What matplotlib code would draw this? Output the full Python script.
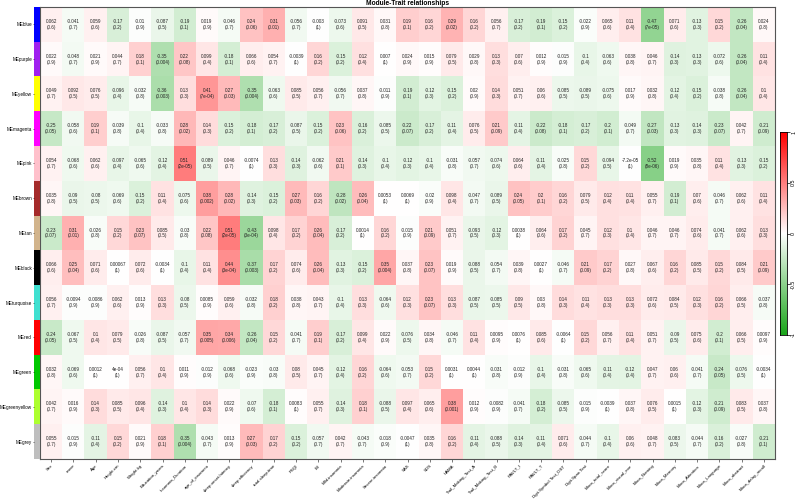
import numpy as np
import matplotlib
matplotlib.use("Agg")
import matplotlib.pyplot as plt
from matplotlib.colors import LinearSegmentedColormap, ListedColormap

plt.rcParams['font.family'] = ['Liberation Sans', 'DejaVu Sans']

modules = ["MEblue", "MEpurple", "MEyellow", "MEmagenta", "MEpink", "MEbrown", "MEtan",
           "MEblack", "MEturquoise", "MEred", "MEgreen", "MEgreenyellow", "MEgrey"]
module_colors = ["#0000FF", "#A020F0", "#FFFF00", "#FF00FF", "#FFC0CB", "#A52A2A", "#D2B48C",
                 "#000000", "#40E0D0", "#FF0000", "#00C800", "#ADFF2F", "#BEBEBE"]

traits = ["Sex", "move", "Age", "Height.cm", "Weight.kg", "Education_years", "Insomnia_Duration",
          "age_of_insomnia", "sleep.onset.latency", "sleep.efficiency", "total.sleep.time", "PSQI",
          "ISI", "Mild.insomnia", "Moderate.insomnia", "Severe.insomnia", "SAS", "SDS", "HAMA",
          "Trail_Making_Test_A", "Trail_Making_Test_B", "RAVLT_I", "RAVLT_T",
          "Digit.Symbol.Test_DST", "Digit.Span.Test", "Moca_total_score", "Moca_visual_exe",
          "Moca_Naming", "Moca_Memory", "Moca_Attention", "Moca_Language", "Moca_abstract",
          "Moca_delay_recall"]

cor_blue = [0.062, -0.041, 0.059, -0.17, -0.01, -0.087, -0.19, 0.019, -0.046, 0.24, 0.31,
            -0.056, -0.003, -0.073, 0.091, 0.031, 0.19, 0.16, 0.29, 0.16, 0.056, -0.17,
            -0.19, -0.15, -0.022, 0.065, 0.11, -0.47, 0.071, -0.13, 0.15, -0.26, 0.024]
p_blue = [0.6, 0.7, 0.6, 0.2, 0.9, 0.5, 0.1, 0.9, 0.7, 0.06, 0.01,
          0.7, 1, 0.6, 0.5, 0.8, 0.1, 0.2, 0.02, 0.2, 0.7, 0.2,
          0.1, 0.2, 0.9, 0.6, 0.4, 7e-05, 0.6, 0.3, 0.2, 0.04, 0.8]

cor_purple = [0.022, -0.048, 0.021, 0.044, 0.18, -0.35, 0.22, 0.099, -0.18, 0.066, 0.054,
              -0.0039, 0.16, -0.15, 0.12, 0.007, 0.024, 0.015, 0.079, 0.029, 0.13, 0.07,
              0.012, -0.015, -0.1, -0.063, 0.038, 0.046, -0.14, -0.13, -0.072, -0.26, 0.11]
p_purple = [0.9, 0.7, 0.9, 0.7, 0.1, 0.004, 0.08, 0.4, 0.1, 0.6, 0.7,
            1, 0.2, 0.2, 0.4, 1, 0.9, 0.9, 0.5, 0.8, 0.3, 0.6,
            0.9, 0.9, 0.4, 0.6, 0.8, 0.7, 0.3, 0.3, 0.6, 0.04, 0.4]

cor_yellow = [0.049, 0.092, 0.076, -0.096, -0.032, -0.36, 0.13, 0.41, 0.27, -0.35, -0.063,
              0.085, 0.056, -0.056, 0.037, -0.011, -0.19, -0.12, -0.15, 0.02, 0.14, 0.051,
              0.06, -0.085, -0.089, -0.075, 0.017, 0.032, -0.12, -0.15, -0.038, -0.26, 0.1]
p_yellow = [0.7, 0.5, 0.5, 0.4, 0.8, 0.003, 0.3, 7e-04, 0.03, 0.004, 0.6,
            0.5, 0.7, 0.7, 0.8, 0.9, 0.1, 0.3, 0.2, 0.9, 0.3, 0.7,
            0.6, 0.5, 0.5, 0.6, 0.9, 0.8, 0.4, 0.2, 0.8, 0.04, 0.4]

cor_magenta = [-0.25, -0.058, 0.19, -0.039, -0.1, -0.033, 0.28, 0.14, -0.15, -0.18, -0.17,
               -0.087, -0.15, 0.23, -0.16, -0.085, -0.22, -0.17, -0.11, 0.076, 0.21, -0.11,
               -0.22, -0.18, -0.17, -0.2, -0.049, -0.27, -0.13, -0.14, -0.23, 0.042, -0.21]
p_magenta = [0.05, 0.6, 0.1, 0.8, 0.4, 0.8, 0.02, 0.3, 0.2, 0.1, 0.2,
             0.5, 0.2, 0.06, 0.2, 0.5, 0.07, 0.2, 0.4, 0.5, 0.09, 0.4,
             0.08, 0.1, 0.2, 0.1, 0.7, 0.03, 0.3, 0.3, 0.07, 0.7, 0.09]

cor_pink = [0.054, -0.068, 0.062, -0.097, -0.065, -0.12, 0.51, -0.089, 0.046, -0.0074, 0.13,
            -0.14, -0.062, 0.21, -0.14, -0.1, -0.12, -0.1, -0.031, -0.057, -0.074, 0.064,
            -0.11, -0.025, 0.15, -0.094, -7.2e-05, -0.52, 0.019, 0.035, 0.11, -0.13, -0.15]
p_pink = [0.7, 0.6, 0.6, 0.4, 0.6, 0.4, 2e-05, 0.5, 0.7, 1, 0.3,
          0.3, 0.6, 0.1, 0.3, 0.4, 0.3, 0.4, 0.8, 0.7, 0.6, 0.6,
          0.4, 0.8, 0.2, 0.5, 1, 8e-06, 0.9, 0.8, 0.4, 0.3, 0.2]

cor_brown = [0.035, -0.09, -0.08, -0.069, -0.15, 0.11, -0.075, 0.38, 0.28, -0.14, -0.15,
             0.27, 0.16, -0.28, 0.26, 0.0053, 0.0069, -0.02, 0.098, -0.047, -0.089, 0.24,
             0.2, 0.16, 0.079, 0.12, 0.11, 0.055, -0.19, 0.07, -0.046, 0.062, 0.11]
p_brown = [0.8, 0.5, 0.5, 0.6, 0.2, 0.4, 0.6, 0.002, 0.02, 0.3, 0.2,
           0.03, 0.2, 0.02, 0.04, 1, 1, 0.9, 0.4, 0.7, 0.5, 0.05,
           0.1, 0.2, 0.5, 0.4, 0.4, 0.7, 0.1, 0.6, 0.7, 0.6, 0.4]

cor_tan = [-0.23, 0.31, -0.026, 0.15, 0.23, 0.085, -0.03, 0.22, 0.51, -0.43, 0.098,
           0.17, 0.26, -0.17, 0.0014, 0.16, -0.015, 0.21, 0.051, -0.093, -0.12, 0.0038,
           0.064, 0.17, 0.045, 0.12, 0.1, 0.046, 0.046, 0.074, -0.041, 0.062, 0.13]
p_tan = [0.07, 0.01, 0.8, 0.2, 0.07, 0.5, 0.8, 0.08, 2e-05, 3e-04, 0.4,
         0.2, 0.04, 0.2, 1, 0.2, 0.9, 0.09, 0.7, 0.5, 0.3, 1,
         0.6, 0.2, 0.7, 0.3, 0.4, 0.7, 0.7, 0.6, 0.7, 0.6, 0.3]

cor_black = [0.066, 0.25, 0.071, 0.00067, 0.072, -0.0034, -0.1, 0.11, 0.44, -0.37, 0.17,
             0.074, 0.26, -0.13, -0.15, 0.35, 0.037, 0.23, 0.019, -0.088, -0.054, 0.039,
             0.0027, -0.046, 0.21, 0.17, 0.027, 0.067, 0.16, 0.085, 0.15, 0.084, 0.21]
p_black = [0.6, 0.04, 0.6, 1, 0.6, 1, 0.4, 0.4, 3e-04, 0.003, 0.2,
           0.6, 0.04, 0.3, 0.2, 0.004, 0.8, 0.07, 0.9, 0.5, 0.7, 0.8,
           1, 0.7, 0.09, 0.2, 0.8, 0.6, 0.2, 0.5, 0.2, 0.5, 0.09]

cor_turquoise = [0.056, -0.0094, -0.0086, 0.062, 0.013, 0.13, -0.08, 0.0085, 0.059, -0.032, 0.18,
                 0.038, 0.043, -0.1, 0.13, -0.064, 0.12, 0.23, 0.13, -0.087, -0.085, 0.09,
                 0.03, 0.14, 0.11, 0.13, 0.13, 0.072, 0.084, 0.12, 0.16, 0.066, -0.037]
p_turquoise = [0.7, 0.9, 0.9, 0.6, 0.9, 0.3, 0.5, 0.9, 0.6, 0.8, 0.2,
               0.8, 0.7, 0.4, 0.3, 0.6, 0.3, 0.07, 0.3, 0.5, 0.5, 0.5,
               0.8, 0.3, 0.4, 0.3, 0.3, 0.6, 0.5, 0.3, 0.2, 0.5, 0.8]

cor_red = [-0.24, -0.067, 0.1, 0.079, -0.026, -0.087, -0.057, 0.35, 0.34, -0.26, 0.15,
           -0.041, 0.19, -0.17, 0.099, 0.022, -0.076, 0.034, -0.046, 0.11, 0.0095, 0.0076,
           0.085, -0.0064, 0.15, 0.056, 0.11, 0.051, -0.09, 0.075, -0.2, 0.066, 0.0097]
p_red = [0.05, 0.5, 0.4, 0.5, 0.8, 0.5, 0.7, 0.005, 0.006, 0.04, 0.2,
         0.7, 0.1, 0.2, 0.4, 0.9, 0.5, 0.8, 0.7, 0.4, 0.9, 1,
         0.6, 1, 0.2, 0.7, 0.4, 0.7, 0.5, 0.6, 0.1, 0.5, 0.9]

cor_green = [0.032, -0.069, 0.0012, 4e-04, 0.056, 0.1, 0.011, -0.012, -0.068, -0.023, -0.03,
             0.08, 0.045, -0.12, 0.16, -0.064, -0.053, 0.15, 0.0031, 0.0044, -0.031, -0.012,
             -0.1, -0.031, -0.065, -0.11, -0.12, 0.047, 0.06, -0.041, -0.24, -0.076, -0.0034]
p_green = [0.8, 0.6, 1, 1, 0.7, 0.4, 0.9, 0.9, 0.6, 0.9, 0.8,
           0.5, 0.7, 0.4, 0.2, 0.6, 0.7, 0.2, 1, 1, 0.8, 0.9,
           0.4, 0.8, 0.6, 0.4, 0.4, 0.7, 0.6, 0.7, 0.05, 0.5, 1]

cor_greenyellow = [0.042, 0.016, 0.14, 0.085, 0.096, -0.14, 0.1, 0.14, 0.022, -0.07, -0.18,
                   0.0083, 0.055, -0.14, 0.18, -0.088, 0.097, 0.065, 0.38, 0.012, -0.0082, -0.041,
                   -0.18, -0.085, -0.015, -0.0039, 0.037, 0.076, 0.0015, -0.12, -0.21, 0.083, 0.037]
p_greenyellow = [0.7, 0.9, 0.3, 0.5, 0.4, 0.3, 0.4, 0.3, 0.9, 0.6, 0.1,
                 1, 0.7, 0.3, 0.1, 0.5, 0.4, 0.6, 0.001, 0.9, 0.9, 0.7,
                 0.2, 0.5, 0.9, 1, 0.8, 0.5, 1, 0.3, 0.09, 0.5, 0.8]

cor_grey = [0.055, -0.015, -0.11, 0.15, 0.021, 0.18, -0.35, -0.043, 0.013, 0.27, 0.17,
            -0.15, -0.057, 0.042, -0.043, -0.018, -0.0047, 0.035, 0.16, -0.11, -0.088, -0.14,
            -0.11, 0.071, -0.044, -0.1, 0.06, 0.048, -0.083, -0.044, -0.16, -0.027, -0.21]
p_grey = [0.7, 0.9, 0.4, 0.2, 0.9, 0.1, 0.004, 0.7, 0.9, 0.03, 0.2,
          0.2, 0.7, 0.7, 0.7, 0.9, 1, 0.8, 0.2, 0.4, 0.5, 0.3,
          0.4, 0.6, 0.7, 0.4, 0.6, 0.7, 0.5, 0.7, 0.2, 0.8, 0.1]

cor = np.array([cor_blue, cor_purple, cor_yellow, cor_magenta, cor_pink, cor_brown, cor_tan,
                cor_black, cor_turquoise, cor_red, cor_green, cor_greenyellow, cor_grey])
pval = np.array([p_blue, p_purple, p_yellow, p_magenta, p_pink, p_brown, p_tan,
                 p_black, p_turquoise, p_red, p_green, p_greenyellow, p_grey])


def r_fmt(v, digits):
    # R-style as.character(signif(v, digits)): fixed unless scientific is shorter
    v = float(f"{v:.{digits}g}")
    fixed = np.format_float_positional(v, trim='-')
    mant, ex = f"{v:.{digits - 1}e}".split('e')
    if '.' in mant:
        mant = mant.rstrip('0').rstrip('.')
    sci = mant + 'e' + ex
    return fixed if len(fixed) <= len(sci) else sci


cmap = LinearSegmentedColormap.from_list("gwr", ["#1AA51A", "#FFFFFF", "#FF0000"])

fig = plt.figure(figsize=(7.98, 5.0), dpi=100)
ax = fig.add_axes([40 / 798, 1 - 459 / 500, 735 / 798, 452 / 500])
ax.imshow(cor, cmap=cmap, vmin=-1, vmax=1, aspect='auto', interpolation='nearest')

for i in range(cor.shape[0]):
    for j in range(cor.shape[1]):
        ax.text(j, i, f"{r_fmt(cor[i, j], 2)}\n({r_fmt(pval[i, j], 1)})",
                ha='center', va='center', fontsize=3.3, color='#222222', linespacing=1.25)

ax.set_xticks(range(len(traits)))
ax.set_xticklabels(traits, rotation=45, ha='right', rotation_mode='anchor', fontsize=3.2)
ax.set_yticks([])
ax.tick_params(axis='x', length=2, width=0.5, pad=1.5, color='#444444')
for s in ax.spines.values():
    s.set_color('#555555')
    s.set_linewidth(0.8)
ax.set_title("Module-Trait relationships", fontsize=4.8, fontweight='bold', pad=1.5)

# module colour strip with row names
sax = fig.add_axes([34 / 798, 1 - 459 / 500, 6 / 798, 452 / 500])
sax.imshow(np.arange(len(modules))[:, None], cmap=ListedColormap(module_colors),
           aspect='auto', interpolation='nearest')
sax.set_xticks([])
sax.set_yticks(range(len(modules)))
sax.set_yticklabels(modules, fontsize=3.3)
sax.tick_params(axis='y', length=1, width=0.4, pad=0.5)
for s in sax.spines.values():
    s.set_visible(False)

# colour key
cax = fig.add_axes([780 / 798, 1 - 335 / 500, 7 / 798, 203 / 500])
grad = np.linspace(-1, 1, 256)[:, None]
cax.imshow(grad, cmap=cmap, vmin=-1, vmax=1, aspect='auto', origin='lower',
           extent=[0, 1, -1, 1])
cax.set_xticks([])
cax.yaxis.tick_right()
cax.set_yticks([-1, -0.5, 0, 0.5, 1])
cax.set_yticklabels(["-1", "-0.5", "0", "0.5", "1"], rotation=90, va='center', fontsize=3.8)
cax.tick_params(axis='y', length=2, width=0.5, pad=1)
for s in cax.spines.values():
    s.set_linewidth(0.6)

fig.savefig("out.png", dpi=100)
